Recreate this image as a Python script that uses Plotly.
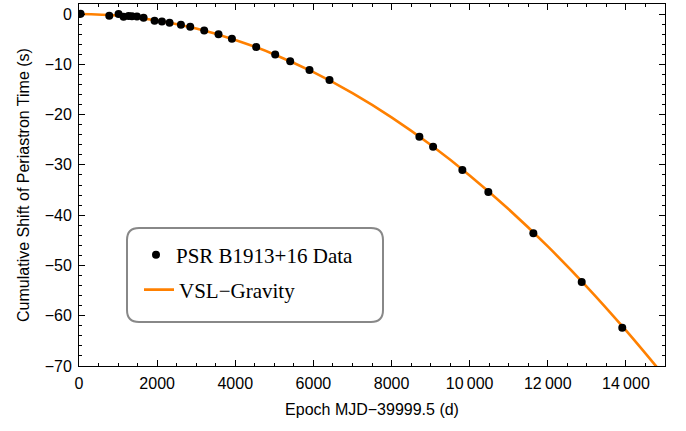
import plotly.graph_objects as go

# Observed data (epoch in days, cumulative shift in s)
data_epoch = [0, 40, 775, 1013, 1141, 1269, 1355, 1483, 1653, 1934, 2123, 2318, 2609, 2847,
              3205, 3571, 3914, 4536, 5022, 5406, 5900, 6412, 8713, 9064, 9813, 10478,
              11630, 12868, 13906]
data_shift = [0.0, 0.05, -0.34, 0.0, -0.53, -0.4, -0.45, -0.5, -0.73, -1.33, -1.46, -1.73,
              -2.13, -2.52, -3.25, -4.04, -4.9, -6.56, -8.02, -9.41, -11.13, -13.12, -24.4,
              -26.4, -31.0, -35.4, -43.6, -53.3, -62.4]

# VSL-Gravity curve
curve_epoch = [0, 1000, 2000, 3000, 4000, 5000, 6000, 7000, 8000, 9000, 10000, 11000,
               12000, 13000, 14000, 14800, 15000]
curve_shift = [0.0, -0.32, -1.28, -2.89, -5.14, -8.03, -11.56, -15.73, -20.54, -26.0,
               -32.1, -38.84, -46.22, -54.25, -62.92, -70.3, -72.2]

x_tick_vals = [0, 2000, 4000, 6000, 8000, 10000, 12000, 14000]
x_tick_text = ["0", "2000", "4000", "6000", "8000", "10\u2009000", "12\u2009000", "14\u2009000"]
y_tick_vals = [0, -10, -20, -30, -40, -50, -60, -70]
y_tick_text = ["0", "\u221210", "\u221220", "\u221230", "\u221240", "\u221250", "\u221260", "\u221270"]

W, H = 686, 431
ml, mr, mt, mb = 79, 21, 4, 65
pw, ph = W - ml - mr, H - mt - mb


def px2paper(px, py):
    return (px - ml) / pw, (H - mb - py) / ph


fig = go.Figure()
fig.add_trace(go.Scatter(
    x=curve_epoch, y=curve_shift, mode="lines", name="VSL\u2212Gravity",
    line=dict(color="#FF8000", width=2.6, shape="spline"), legend="legend2"))
fig.add_trace(go.Scatter(
    x=data_epoch, y=data_shift, mode="markers", name="PSR B1913+16 Data",
    marker=dict(color="black", size=8), legend="legend"))

x0, y1 = px2paper(127, 228)
x1, y0 = px2paper(383, 322)
rx, ry = 12 / pw, 12 / ph
path = (f"M {x0+rx},{y1} L {x1-rx},{y1} Q {x1},{y1} {x1},{y1-ry} "
        f"L {x1},{y0+ry} Q {x1},{y0} {x1-rx},{y0} L {x0+rx},{y0} "
        f"Q {x0},{y0} {x0},{y0+ry} L {x0},{y1-ry} Q {x0},{y1} {x0+rx},{y1} Z")
fig.add_shape(type="path", path=path, xref="paper", yref="paper",
              line=dict(color="#888888", width=2), fillcolor="white", layer="above")

l1x, l1y = px2paper(136, 255)
l2x, l2y = px2paper(139, 290)

font_sans = "Liberation Sans, Arial"
axis_common = dict(
    showgrid=False, zeroline=False, showline=True, linecolor="black", linewidth=1,
    mirror="ticks", ticks="inside", tickcolor="black", tickwidth=1,
    tickfont=dict(family=font_sans, size=16, color="black"),
)

fig.update_xaxes(
    range=[0, 15000], tickvals=x_tick_vals, ticktext=x_tick_text, ticklen=6,
    minor=dict(dtick=500, ticks="inside", ticklen=3, tickcolor="black", showgrid=False),
    title=dict(text="Epoch MJD\u221239999.5 (d)", standoff=12,
               font=dict(family=font_sans, size=16, color="black")),
    ticklabelstandoff=3,
    **axis_common)
fig.update_yaxes(
    range=[-70, 2], tickvals=y_tick_vals, ticktext=y_tick_text, ticklen=6,
    minor=dict(dtick=2, ticks="inside", ticklen=3, tickcolor="black", showgrid=False),
    title=dict(text="Cumulative Shift of Periastron Time (s)", standoff=11,
               font=dict(family=font_sans, size=16, color="black")),
    ticklabelstandoff=3,
    **axis_common)

legend_font = dict(family="Liberation Serif, Times New Roman", size=21, color="black")
fig.update_layout(
    width=W, height=H, margin=dict(l=ml, r=mr, t=mt, b=mb),
    paper_bgcolor="white", plot_bgcolor="white",
    showlegend=True,
    legend=dict(x=l1x, y=l1y, xanchor="left", yanchor="middle", bgcolor="rgba(0,0,0,0)",
                borderwidth=0, font=legend_font, itemwidth=30),
    legend2=dict(x=l2x, y=l2y, xanchor="left", yanchor="middle", bgcolor="rgba(0,0,0,0)",
                 borderwidth=0, font=legend_font, itemwidth=30),
)

fig.write_html("out.html")
